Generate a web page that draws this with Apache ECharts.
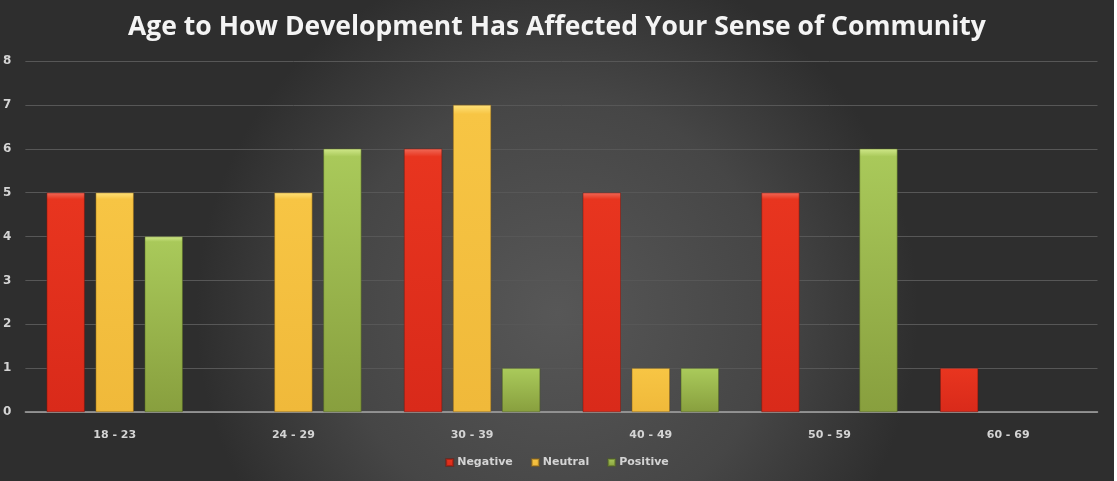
<!DOCTYPE html>
<html>
<head>
<meta charset="utf-8">
<script src="https://cdn.jsdelivr.net/npm/echarts@6/dist/echarts.min.js"></script>
<style>
html,body{margin:0;padding:0;background:#ffffff;}
#c{width:1114px;height:481px;}
</style>
</head>
<body>
<div id="c"></div>
<script>
var categories = ['18 - 23', '24 - 29', '30 - 39', '40 - 49', '50 - 59', '60 - 69'];
var negative = [5, 0, 6, 5, 5, 1];
var neutral = [5, 5, 7, 1, 0, 0];
var positive = [4, 6, 1, 1, 6, 0];
var yTicks = [0, 1, 2, 3, 4, 5, 6, 7, 8];

function grad(top, mid, bottom) {
  return new echarts.graphic.LinearGradient(0, 0, 0, 1, [
    {offset: 0, color: top},
    {offset: 0.03, color: mid},
    {offset: 1, color: bottom}
  ]);
}
function noZero(arr) {
  return arr.map(function (v) { return v === 0 ? '-' : v; });
}

var chart = echarts.init(document.getElementById('c'));
chart.setOption({
  backgroundColor: new echarts.graphic.RadialGradient(0.5, 0.65, 0.75, [
    {offset: 0, color: '#575757'},
    {offset: 0.6, color: '#464646'},
    {offset: 1, color: '#2e2e2e'}
  ]),
  title: {
    text: 'Age to How Development Has Affected Your Sense of Community',
    left: 'center',
    top: 9,
    textStyle: {color: '#f4f4f4', fontSize: 26.5, fontWeight: 'bold', fontFamily: 'Open Sans'}
  },
  legend: {
    bottom: 8,
    left: 'center',
    itemWidth: 7,
    itemHeight: 7,
    itemGap: 18,
    icon: 'rect',
    textStyle: {color: '#d4d4d4', fontSize: 11, fontWeight: 'bold', fontFamily: 'DejaVu Sans', padding: [0, 0, 0, -1]},
    data: ['Negative', 'Neutral', 'Positive']
  },
  grid: {left: 18.5, right: 16.5, top: 61, bottom: 69, containLabel: false},
  xAxis: {
    type: 'category',
    data: categories,
    axisLine: {lineStyle: {color: '#a6a6a6', width: 1.5}},
    axisTick: {show: false},
    axisLabel: {color: '#d4d4d4', fontSize: 11, fontWeight: 'bold', margin: 18, fontFamily: 'DejaVu Sans'}
  },
  yAxis: {
    type: 'value',
    min: 0,
    max: 8,
    interval: 1,
    axisLine: {show: false},
    axisTick: {show: false},
    splitLine: {lineStyle: {color: '#575757', width: 1}},
    axisLabel: {
      color: '#d4d4d4', fontSize: 12, fontWeight: 'bold', margin: 14, fontFamily: 'DejaVu Sans',
      formatter: function (v) { return yTicks.indexOf(v) >= 0 ? String(v) : ''; }
    }
  },
  series: [
    {
      name: 'Negative', type: 'bar', data: noZero(negative), barWidth: 38, barGap: '29%',
      itemStyle: {color: grad('#f06a58', '#e8351f', '#d92a1a'), borderColor: 'rgba(120,20,10,0.5)', borderWidth: 0.5}
    },
    {
      name: 'Neutral', type: 'bar', data: noZero(neutral), barWidth: 38,
      itemStyle: {color: grad('#ffe27a', '#f7c544', '#f0b93a'), borderColor: 'rgba(140,100,20,0.5)', borderWidth: 0.5}
    },
    {
      name: 'Positive', type: 'bar', data: noZero(positive), barWidth: 38,
      itemStyle: {color: grad('#d0e88a', '#a9c95a', '#889f3e'), borderColor: 'rgba(80,100,30,0.5)', borderWidth: 0.5}
    }
  ],
  color: ['#e8351f', '#f7c544', '#a9c95a']
});
</script>
</body>
</html>
